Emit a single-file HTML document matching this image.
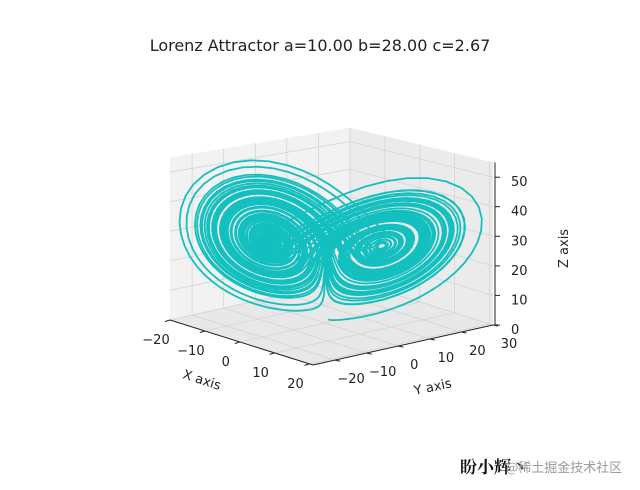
<!DOCTYPE html>
<html><head><meta charset="utf-8"><style>
html,body{margin:0;padding:0;background:#fff;width:640px;height:490px;overflow:hidden}
svg{display:block}
text{font-family:"DejaVu Sans","Liberation Sans",sans-serif;fill:#222}
</style></head><body>
<svg id="s" width="640" height="490" xmlns="http://www.w3.org/2000/svg">
<text x="320" y="51" font-size="16" text-anchor="middle">Lorenz Attractor a=10.00 b=28.00 c=2.67</text>
<g id="g"></g>
<text x="0" y="0" font-size="13" transform="translate(182,378) rotate(18)">X axis</text>
<text x="0" y="0" font-size="13" transform="translate(415,395) rotate(-12)">Y axis</text>
<text x="0" y="0" font-size="13" transform="translate(568,268) rotate(-90)">Z axis</text>
<text x="460" y="473" font-size="17" font-weight="bold" style="font-family:'Noto Serif CJK SC',serif;fill:#111">盼小辉丶</text>
<text x="506" y="472" font-size="13" style="font-family:'Noto Sans CJK SC',sans-serif;fill:#9a9a9a">@稀土掘金技术社区</text>
</svg>
<script>
var xmin=-20,xmax=21,ymin=-27,ymax=30,zmin=0,zmax=55;
function P(x,y,z){var a=(x-xmin)/(xmax-xmin),b=(y-ymin)/(ymax-ymin),c=(z-zmin)/(zmax-zmin);
var dep=((1-a)+b)/2, f=1-0.12*dep;
var bx=170+143*a+180*b, by=320+45*a-40*b;
return [bx, by-173*c*f];}
function pt(p){return p[0].toFixed(1)+","+p[1].toFixed(1);}
var h="";
function poly(ps,f){h+='<polygon points="'+ps.map(pt).join(" ")+'" fill="'+f+'" stroke="none"/>';}
function line(p,q,c,w){h+='<line x1="'+p[0].toFixed(1)+'" y1="'+p[1].toFixed(1)+'" x2="'+q[0].toFixed(1)+'" y2="'+q[1].toFixed(1)+'" stroke="'+c+'" stroke-width="'+(w||0.8)+'"/>';}
poly([P(xmin,ymin,zmin),P(xmin,ymax,zmin),P(xmin,ymax,zmax),P(xmin,ymin,zmax)],"#f2f2f2");
poly([P(xmin,ymax,zmin),P(xmax,ymax,zmin),P(xmax,ymax,zmax),P(xmin,ymax,zmax)],"#ebebeb");
poly([P(xmin,ymin,zmin),P(xmax,ymin,zmin),P(xmax,ymax,zmin),P(xmin,ymax,zmin)],"#e8e8e8");
var gc="#d4d4d4";
var xt=[-20,-10,0,10,20],yt=[-20,-10,0,10,20,30],zt=[0,10,20,30,40,50];
yt.forEach(function(y){line(P(xmin,y,zmin),P(xmin,y,zmax),gc);line(P(xmin,y,zmin),P(xmax,y,zmin),gc);});
zt.forEach(function(z){line(P(xmin,ymin,z),P(xmin,ymax,z),gc);line(P(xmin,ymax,z),P(xmax,ymax,z),gc);});
xt.forEach(function(x){line(P(x,ymax,zmin),P(x,ymax,zmax),gc);line(P(x,ymin,zmin),P(x,ymax,zmin),gc);});
line(P(xmin,ymin,zmin),P(xmax,ymin,zmin),"#222",1);
line(P(xmax,ymin,zmin),P(xmax,ymax,zmin),"#222",1);
var zb=P(xmax,ymax,zmin),zt2=P(xmax,ymax,zmax);
line([zb[0]+2,zb[1]],[zt2[0]+2,zt2[1]],"#222",1);
xt.forEach(function(x){var p=P(x,ymin,zmin);line(p,[p[0]-5,p[1]+1.5],"#222",1);
h+='<text x="'+(p[0]-14)+'" y="'+(p[1]+24)+'" font-size="13" text-anchor="middle">'+(x<0?"\u2212"+(-x):x)+'</text>';});
yt.forEach(function(y){var p=P(xmax,y,zmin);line(p,[p[0]+5,p[1]+1],"#222",1);
h+='<text x="'+(p[0]+16)+'" y="'+(p[1]+23)+'" font-size="13" text-anchor="middle">'+(y<0?"\u2212"+(-y):y)+'</text>';});
zt.forEach(function(z){var p=P(xmax,ymax,z);line([p[0]+2,p[1]],[p[0]+7,p[1]],"#222",1);
h+='<text x="'+(p[0]+18)+'" y="'+(p[1]+9)+'" font-size="13">'+z+'</text>';});
var x=0,y=1,z=1.05,dt=0.01,d="M"+pt(P(x,y,z));
for(var i=0;i<10000;i++){var dx=10*(y-x),dy=x*(28-z)-y,dz=x*y-2.667*z;x+=dx*dt;y+=dy*dt;z+=dz*dt;d+=" L"+pt(P(x,y,z));}
h+='<path d="'+d+'" fill="none" stroke="#14bfbf" stroke-width="1.8"/>';
document.getElementById("g").innerHTML=h;
</script>
</body></html>
